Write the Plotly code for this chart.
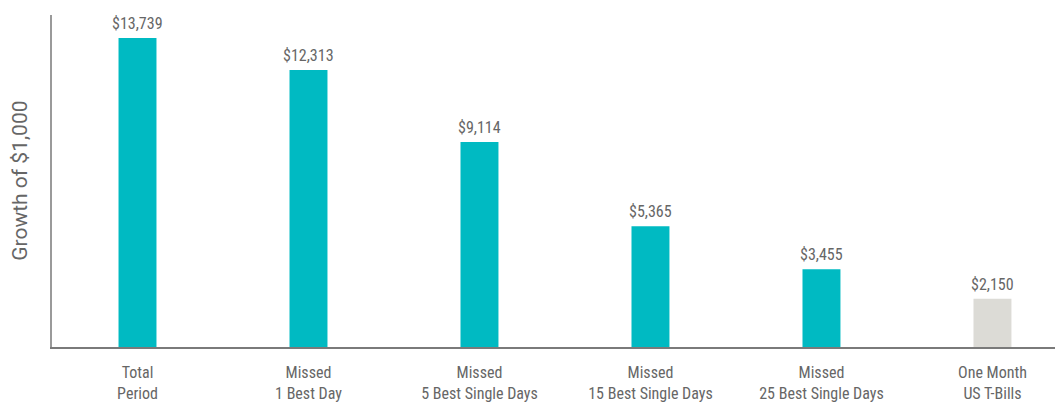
import plotly.graph_objects as go

categories = ["Total<br>Period", "Missed<br>1 Best Day", "Missed<br>5 Best Single Days",
              "Missed<br>15 Best Single Days", "Missed<br>25 Best Single Days", "One Month<br>US T-Bills"]
values = [13739, 12313, 9114, 5365, 3455, 2150]
labels = ["$13,739", "$12,313", "$9,114", "$5,365", "$3,455", "$2,150"]
colors = ["#00BAC2", "#00BAC2", "#00BAC2", "#00BAC2", "#00BAC2", "#DCDBD6"]

FONT = "Liberation Sans Narrow, Roboto Condensed, Roboto, Arial, sans-serif"

fig = go.Figure()
fig.add_trace(go.Bar(
    x=list(range(len(categories))), y=values,
    marker=dict(color=colors, line=dict(width=0)),
    width=0.222, hoverinfo="skip",
))
for i, (v, t) in enumerate(zip(values, labels)):
    fig.add_annotation(x=i, y=v, text=t, showarrow=False, yanchor="bottom", yshift=3,
                       font=dict(family=FONT, size=16, color="#666666"))

fig.add_annotation(xref="paper", yref="paper", x=-0.032, y=0.5, xanchor="center", yanchor="middle",
                   text="Growth of $1,000", textangle=-90, showarrow=False,
                   font=dict(family="Roboto, Arial, sans-serif", size=21, color="#666666"))

fig.update_layout(
    width=1055, height=397,
    margin=dict(l=44, r=3, t=7, b=58, autoexpand=False),
    paper_bgcolor="white", plot_bgcolor="white",
    showlegend=False,
    font=dict(family=FONT, color="#666666"),
    xaxis=dict(
        tickmode="array", tickvals=list(range(len(categories))), ticktext=categories,
        range=[-0.5, 5.395], showgrid=False, zeroline=False, automargin=False,
        showline=True, linecolor="#7a7a7a", linewidth=1.5,
        ticks="", ticklabelstandoff=10, tickfont=dict(family=FONT, size=16, color="#666666"),
    ),
    yaxis=dict(
        range=[0, 14760], showgrid=False, zeroline=False, showticklabels=False, automargin=False,
        showline=True, linecolor="#9a9a9a", linewidth=1.5, ticks="",
    ),
)

fig.write_html("out.html")
